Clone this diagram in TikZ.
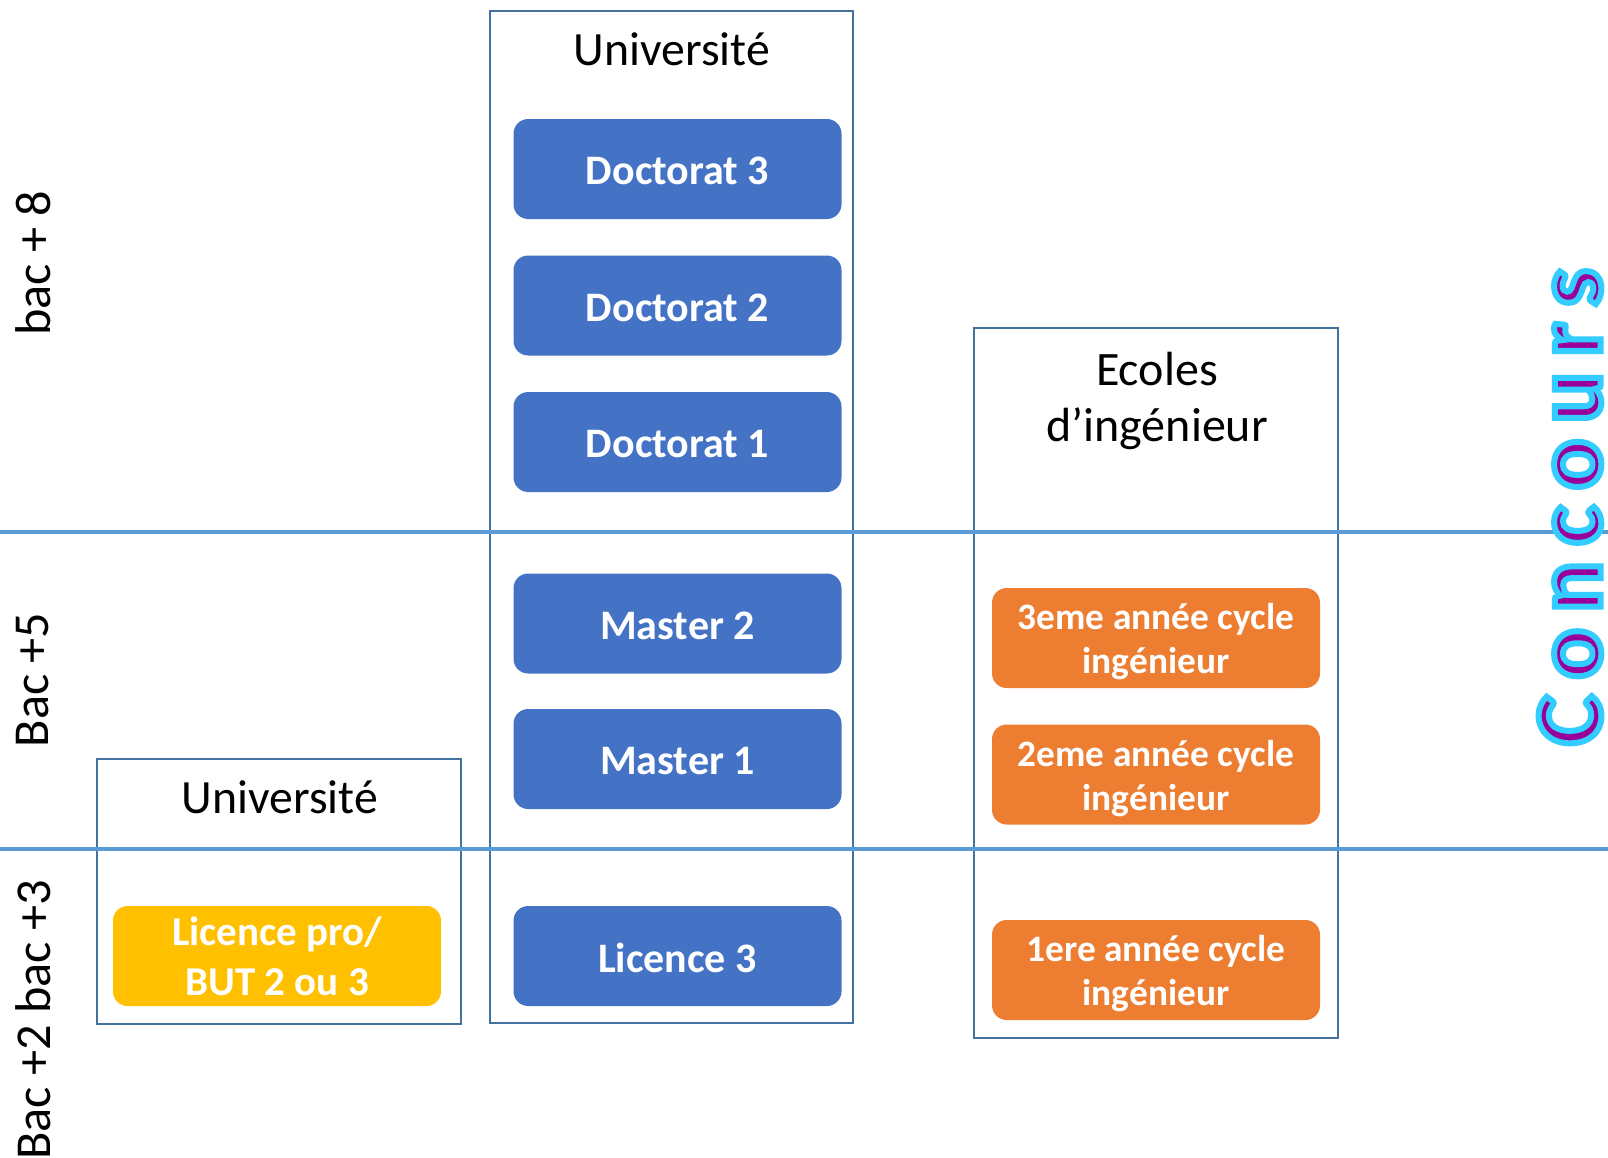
\documentclass[tikz,border=0pt]{standalone}
\usepackage{fontspec}
\setmainfont{Carlito}
\definecolor{blu}{HTML}{4472C4}
\definecolor{ora}{HTML}{ED7D31}
\definecolor{yel}{HTML}{FFC000}
\definecolor{framec}{HTML}{41719C}
\definecolor{rulec}{HTML}{5B9BD5}
\definecolor{purp}{HTML}{990099}
\newcommand\outlinedtext[1]{\special{pdf:literal direct 2 Tr 4.5 w 0.2 0.8 1 RG}#1\special{pdf:literal direct 0 Tr}}
\newcommand\gapsp{\hspace{12pt}}
\newcommand\lowr[2]{\raisebox{-#1}[\height][\depth]{#2}}
\begin{document}
\begin{tikzpicture}[x=0.75pt,y=-0.75pt,
  frame/.style={draw=framec, line width=1.5pt, fill=none, inner sep=0pt, outer sep=0pt},
  card/.style={rounded corners=11pt, text=white, inner sep=0pt, minimum width=246pt, minimum height=75pt, align=center},
  bluecard/.style={card, fill=blu, font=\bfseries\fontsize{31.5}{38}\selectfont},
  orangecard/.style={card, fill=ora, font=\bfseries\fontsize{28}{33}\selectfont},
  yellowcard/.style={card, fill=yel, font=\bfseries\fontsize{30.75}{37.5}\selectfont},
  title/.style={font=\fontsize{35.8}{43}\selectfont, inner sep=0pt},
  level/.style={rotate=90, font=\fontsize{37.7}{45}\selectfont, inner sep=0pt},
  rule/.style={draw=rulec, line width=3pt}]
\useasboundingbox (0,0) rectangle (1608,1157);
\fill[white] (0,0) rectangle (1608,1157);

% frames
\node[frame, minimum width=272.25pt, minimum height=759pt] (unimid) at (671.5,517) {};
\node[frame, minimum width=273pt, minimum height=198.75pt] (unileft) at (279,891.5) {};
\node[frame, minimum width=273pt, minimum height=532.5pt] (ecoles) at (1156,683) {};

% level rules
\coordinate (r1w) at (0,532);
\coordinate (r1e) at (1608,532);
\coordinate (r2w) at (0,849);
\coordinate (r2e) at (1608,849);
\draw[rule] (r1w) -- (r1e);
\draw[rule] (r2w) -- (r2e);

% titles
\node[title, anchor=base] (tmid) at (672,65) {Université};
\node[title, anchor=base] (tleft) at (280,813) {Université};
\node[font=\fontsize{36}{42.5}\selectfont, align=center, inner sep=0pt, anchor=north] (tecoles) at (1157,351.5) {Ecoles\\d’ingénieur};

% university cards
\node[bluecard] (d3) at (677.5,169) {\lowr{1.5pt}{Doctorat 3}};
\node[bluecard] (d2) at (677.5,305.5) {\lowr{1.5pt}{Doctorat 2}};
\node[bluecard] (d1) at (677.5,442) {\lowr{1.5pt}{Doctorat 1}};
\node[bluecard] (m2) at (677.5,623.5) {\lowr{1.5pt}{Master 2}};
\node[bluecard] (m1) at (677.5,759) {\lowr{1.5pt}{Master 1}};
\node[bluecard] (l3) at (677.5,956) {\lowr{1.5pt}{Licence 3}};

\node[yellowcard] (lp) at (277,956) {Licence pro/\\BUT 2 ou 3};

\node[orangecard] (i3) at (1156,638) {\lowr{3pt}{3eme année cycle}\\\lowr{3pt}{ingénieur}};
\node[orangecard] (i2) at (1156,774.5) {\lowr{3pt}{2eme année cycle}\\\lowr{3pt}{ingénieur}};
\node[orangecard] (i1) at (1156,970) {\lowr{3pt}{1ere année cycle}\\\lowr{3pt}{ingénieur}};

% level labels
\node[level] (b8) at (33,263.5) {bac + 8};
\node[level] (b5) at (33,680) {Bac +5};
\node[level] (b23) at (33,1020) {Bac +2 bac +3};

% concours
\node[rotate=90, inner sep=0pt, font=\bfseries\fontsize{71}{80}\selectfont, text=purp] (conc) at (1570,507)
  {\outlinedtext{C\gapsp o\gapsp n\gapsp c\gapsp o\gapsp u\gapsp r\gapsp s}};
\end{tikzpicture}
\end{document}
